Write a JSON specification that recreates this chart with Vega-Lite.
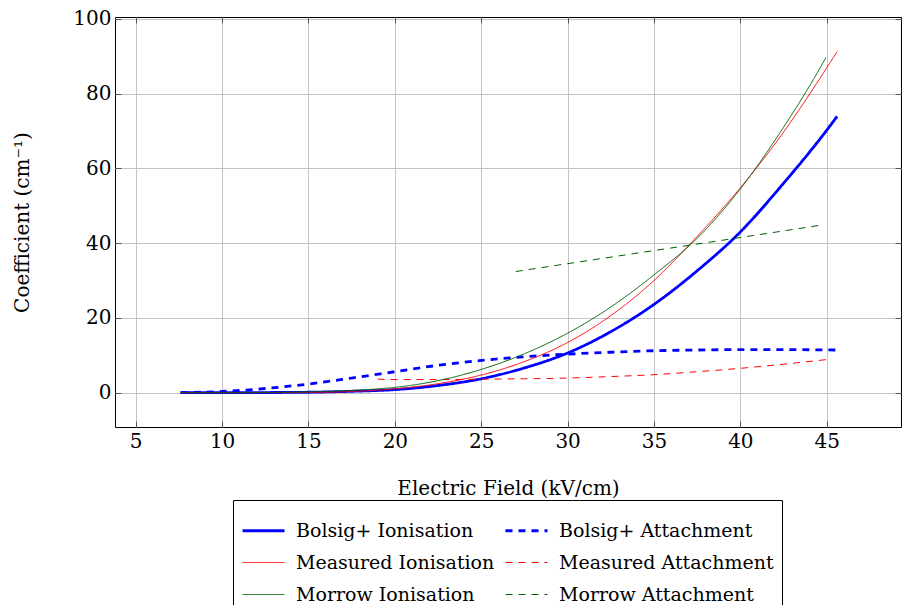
{
  "$schema": "https://vega.github.io/schema/vega-lite/v6.json",
  "width": 786,
  "height": 410,
  "autosize": {"type": "none"},
  "padding": {"left": 115, "top": 17, "right": 4, "bottom": 178},
  "background": "white",
  "config": {
    "font": "DejaVu Serif",
    "view": {"stroke": "#000", "strokeWidth": 1},
    "axis": {
      "labelFont": "DejaVu Serif",
      "labelFontSize": 20,
      "labelColor": "#000",
      "titleFont": "DejaVu Serif",
      "titleFontSize": 20,
      "titleFontWeight": "normal",
      "titleColor": "#000",
      "gridColor": "#c4c4c4",
      "gridWidth": 1,
      "domain": false,
      "tickColor": "#555",
      "tickSize": -6,
      "tickWidth": 1,
      "labelPadding": 10
    },
    "legend": {
      "orient": "none",
      "legendX": 118,
      "legendY": 483,
      "columns": 2,
      "strokeColor": "#000",
      "fillColor": "#fff",
      "padding": 8,
      "symbolType": "stroke",
      "symbolSize": 1764,
      "labelFont": "DejaVu Serif",
      "labelFontSize": 19,
      "labelColor": "#000",
      "labelOffset": 10,
      "labelLimit": 0,
      "rowPadding": -4,
      "columnPadding": 4,
      "title": null
    }
  },
  "data": {
    "values": [
      {"series": "Bolsig+ Ionisation", "x": 7.6, "y": 0},
      {"series": "Bolsig+ Ionisation", "x": 10, "y": 0},
      {"series": "Bolsig+ Ionisation", "x": 12.5, "y": 0.02},
      {"series": "Bolsig+ Ionisation", "x": 15, "y": 0.1},
      {"series": "Bolsig+ Ionisation", "x": 17.5, "y": 0.35},
      {"series": "Bolsig+ Ionisation", "x": 20, "y": 0.8},
      {"series": "Bolsig+ Ionisation", "x": 22.5, "y": 1.9},
      {"series": "Bolsig+ Ionisation", "x": 25, "y": 3.7},
      {"series": "Bolsig+ Ionisation", "x": 27.5, "y": 6.6},
      {"series": "Bolsig+ Ionisation", "x": 30, "y": 10.6},
      {"series": "Bolsig+ Ionisation", "x": 32.5, "y": 16.3},
      {"series": "Bolsig+ Ionisation", "x": 35, "y": 23.6},
      {"series": "Bolsig+ Ionisation", "x": 37.5, "y": 32.6},
      {"series": "Bolsig+ Ionisation", "x": 40, "y": 43.0},
      {"series": "Bolsig+ Ionisation", "x": 42.5, "y": 56.0},
      {"series": "Bolsig+ Ionisation", "x": 45, "y": 70.2},
      {"series": "Bolsig+ Ionisation", "x": 45.6, "y": 73.9},
      {"series": "Bolsig+ Attachment", "x": 7.6, "y": 0},
      {"series": "Bolsig+ Attachment", "x": 10, "y": 0.3},
      {"series": "Bolsig+ Attachment", "x": 12.5, "y": 1.1},
      {"series": "Bolsig+ Attachment", "x": 15, "y": 2.3},
      {"series": "Bolsig+ Attachment", "x": 17.5, "y": 3.9},
      {"series": "Bolsig+ Attachment", "x": 20, "y": 5.6},
      {"series": "Bolsig+ Attachment", "x": 22.5, "y": 7.3},
      {"series": "Bolsig+ Attachment", "x": 25, "y": 8.6},
      {"series": "Bolsig+ Attachment", "x": 27.5, "y": 9.6},
      {"series": "Bolsig+ Attachment", "x": 30, "y": 10.3},
      {"series": "Bolsig+ Attachment", "x": 32.5, "y": 10.8},
      {"series": "Bolsig+ Attachment", "x": 35, "y": 11.2},
      {"series": "Bolsig+ Attachment", "x": 37.5, "y": 11.4},
      {"series": "Bolsig+ Attachment", "x": 40, "y": 11.5},
      {"series": "Bolsig+ Attachment", "x": 42.5, "y": 11.5},
      {"series": "Bolsig+ Attachment", "x": 45.6, "y": 11.4},
      {"series": "Measured Ionisation", "x": 7.6, "y": 0},
      {"series": "Measured Ionisation", "x": 10, "y": 0},
      {"series": "Measured Ionisation", "x": 12.5, "y": 0.01},
      {"series": "Measured Ionisation", "x": 15, "y": 0.05},
      {"series": "Measured Ionisation", "x": 17.5, "y": 0.3},
      {"series": "Measured Ionisation", "x": 20, "y": 1.0},
      {"series": "Measured Ionisation", "x": 22.5, "y": 2.4},
      {"series": "Measured Ionisation", "x": 25, "y": 4.7},
      {"series": "Measured Ionisation", "x": 27.5, "y": 8.3},
      {"series": "Measured Ionisation", "x": 30, "y": 13.4},
      {"series": "Measured Ionisation", "x": 32.5, "y": 20.6},
      {"series": "Measured Ionisation", "x": 35, "y": 30.0},
      {"series": "Measured Ionisation", "x": 37.5, "y": 41.8},
      {"series": "Measured Ionisation", "x": 40, "y": 54.8},
      {"series": "Measured Ionisation", "x": 42.5, "y": 69.7},
      {"series": "Measured Ionisation", "x": 44, "y": 79.8},
      {"series": "Measured Ionisation", "x": 45, "y": 86.9},
      {"series": "Measured Ionisation", "x": 45.6, "y": 91.2},
      {"series": "Measured Attachment", "x": 19, "y": 3.6},
      {"series": "Measured Attachment", "x": 20, "y": 3.5},
      {"series": "Measured Attachment", "x": 22.5, "y": 3.5},
      {"series": "Measured Attachment", "x": 25, "y": 3.6},
      {"series": "Measured Attachment", "x": 27.5, "y": 3.7},
      {"series": "Measured Attachment", "x": 30, "y": 3.9},
      {"series": "Measured Attachment", "x": 32.5, "y": 4.3},
      {"series": "Measured Attachment", "x": 35, "y": 4.8},
      {"series": "Measured Attachment", "x": 37.5, "y": 5.6},
      {"series": "Measured Attachment", "x": 40, "y": 6.5},
      {"series": "Measured Attachment", "x": 42.5, "y": 7.6},
      {"series": "Measured Attachment", "x": 45.3, "y": 9.0},
      {"series": "Morrow Ionisation", "x": 7.6, "y": 0},
      {"series": "Morrow Ionisation", "x": 10, "y": 0},
      {"series": "Morrow Ionisation", "x": 12.5, "y": 0.05},
      {"series": "Morrow Ionisation", "x": 15, "y": 0.2},
      {"series": "Morrow Ionisation", "x": 17.5, "y": 0.6},
      {"series": "Morrow Ionisation", "x": 20, "y": 1.4},
      {"series": "Morrow Ionisation", "x": 22.5, "y": 3.2},
      {"series": "Morrow Ionisation", "x": 25, "y": 6.2},
      {"series": "Morrow Ionisation", "x": 27.5, "y": 10.4},
      {"series": "Morrow Ionisation", "x": 30, "y": 15.9},
      {"series": "Morrow Ionisation", "x": 32.5, "y": 22.9},
      {"series": "Morrow Ionisation", "x": 35, "y": 31.5},
      {"series": "Morrow Ionisation", "x": 37.5, "y": 41.3},
      {"series": "Morrow Ionisation", "x": 40, "y": 54.5},
      {"series": "Morrow Ionisation", "x": 42.5, "y": 71.0},
      {"series": "Morrow Ionisation", "x": 44, "y": 82.0},
      {"series": "Morrow Ionisation", "x": 44.95, "y": 89.6},
      {"series": "Morrow Attachment", "x": 27, "y": 32.4},
      {"series": "Morrow Attachment", "x": 30, "y": 34.5},
      {"series": "Morrow Attachment", "x": 35, "y": 38.0},
      {"series": "Morrow Attachment", "x": 40, "y": 41.5},
      {"series": "Morrow Attachment", "x": 44.8, "y": 44.9}
    ]
  },
  "layer": [
    {
      "mark": {"type": "line", "interpolate": "monotone"},
      "encoding": {
        "x": {
          "field": "x",
          "type": "quantitative",
          "scale": {"domain": [3.8, 49.3], "nice": false, "zero": false},
          "axis": {"orient": "bottom", "values": [5, 10, 15, 20, 25, 30, 35, 40, 45], "title": "Electric Field (kV/cm)", "titlePadding": 27, "grid": true}
        },
        "y": {
          "field": "y",
          "type": "quantitative",
          "scale": {"domain": [-9.2, 100.5], "nice": false, "zero": false},
          "axis": {"orient": "left", "values": [0, 20, 40, 60, 80, 100], "title": "Coefficient (cm⁻¹)", "titlePadding": 40, "grid": true}
        },
        "color": {
          "field": "series",
          "type": "nominal",
          "scale": {
            "domain": ["Bolsig+ Ionisation", "Measured Ionisation", "Morrow Ionisation", "Bolsig+ Attachment", "Measured Attachment", "Morrow Attachment"],
            "range": ["#0000ff", "#ff0000", "#006000", "#0000ff", "#ff0000", "#006000"]
          }
        },
        "strokeDash": {
          "field": "series",
          "type": "nominal",
          "scale": {
            "domain": ["Bolsig+ Ionisation", "Measured Ionisation", "Morrow Ionisation", "Bolsig+ Attachment", "Measured Attachment", "Morrow Attachment"],
            "range": [[1, 0], [1, 0], [1, 0], [7, 6], [7, 6], [7, 6]]
          }
        },
        "strokeWidth": {
          "field": "series",
          "type": "nominal",
          "scale": {
            "type": "ordinal",
            "domain": ["Bolsig+ Ionisation", "Measured Ionisation", "Morrow Ionisation", "Bolsig+ Attachment", "Measured Attachment", "Morrow Attachment"],
            "range": [2.8, 1, 1, 2.8, 1, 1]
          }
        }
      }
    },
    {
      "mark": {"type": "line", "strokeOpacity": 0},
      "encoding": {
        "x": {
          "field": "x",
          "type": "quantitative",
          "axis": {"orient": "top", "values": [5, 10, 15, 20, 25, 30, 35, 40, 45], "labels": false, "title": null, "grid": false}
        },
        "y": {
          "field": "y",
          "type": "quantitative",
          "axis": {"orient": "right", "values": [0, 20, 40, 60, 80, 100], "labels": false, "title": null, "grid": false}
        },
        "detail": {"field": "series"}
      }
    }
  ],
  "resolve": {"axis": {"x": "independent", "y": "independent"}}
}
